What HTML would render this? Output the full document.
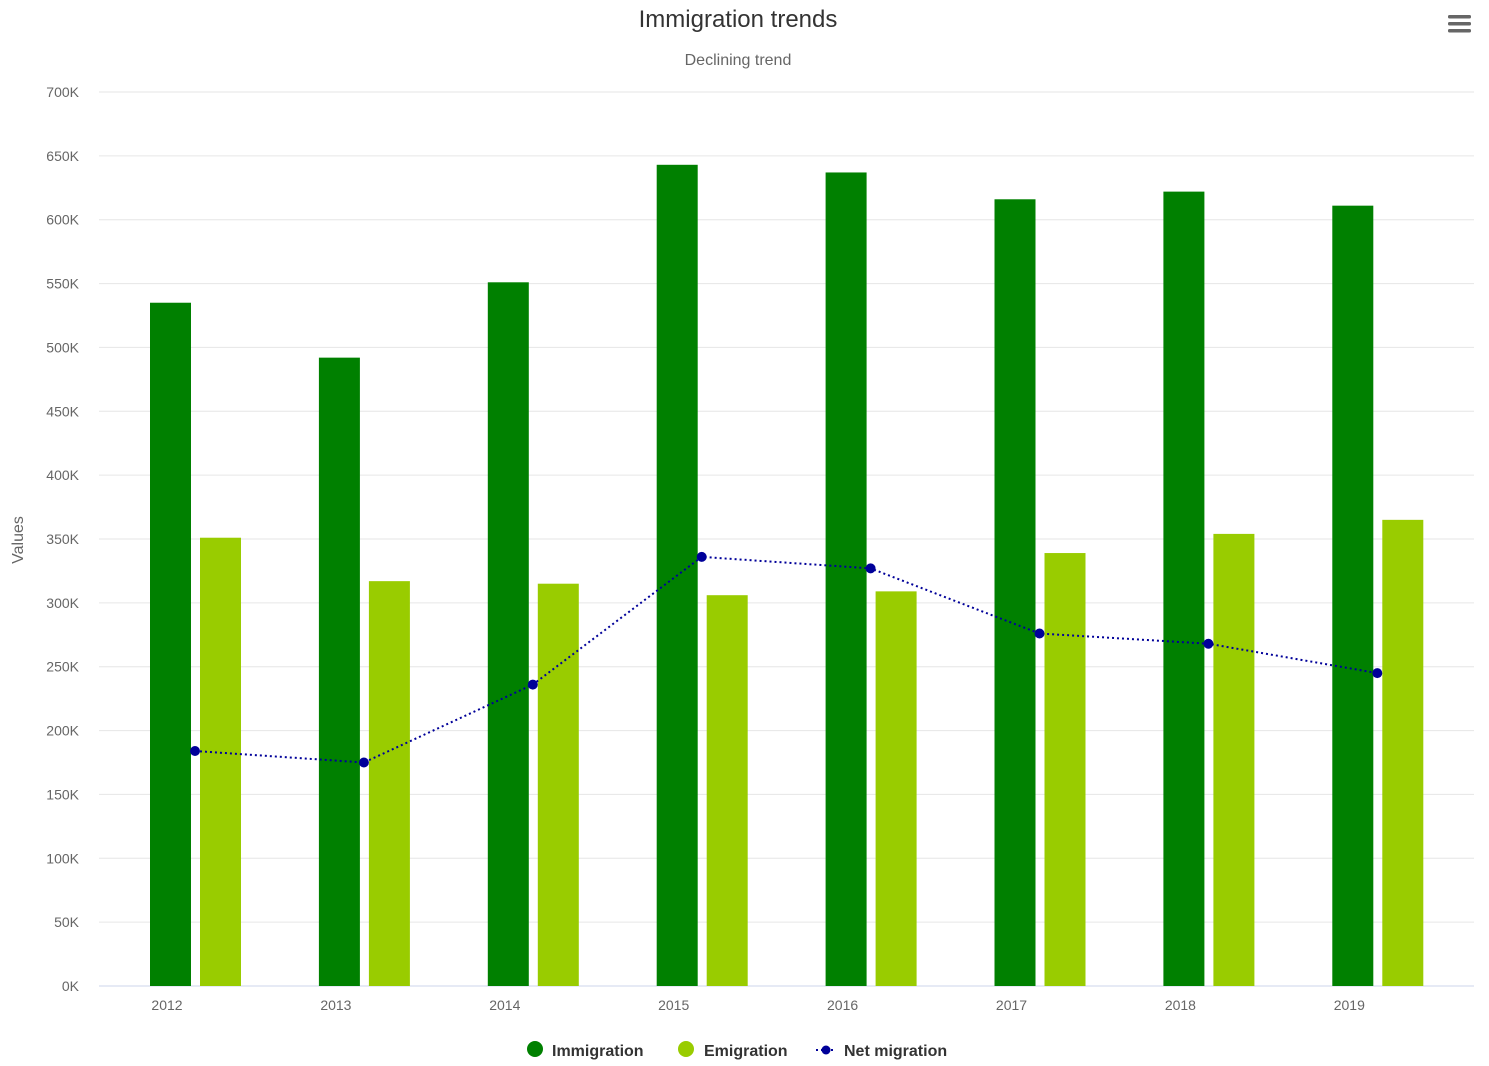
<!DOCTYPE html>
<html><head><meta charset="utf-8"><style>
body{margin:0;background:#fff;font-family:"Liberation Sans",sans-serif;}
</style></head><body>
<svg id="chart" width="1489" height="1066" xmlns="http://www.w3.org/2000/svg" style="display:block">
<text x="738" y="27" text-anchor="middle" font-size="24" fill="#333">Immigration trends</text>
<text x="738" y="65" text-anchor="middle" font-size="16" fill="#666">Declining trend</text>
<g fill="#666">
<rect x="1448" y="15" width="23" height="3.5" rx="1.5"/><rect x="1448" y="22" width="23" height="3.5" rx="1.5"/><rect x="1448" y="29" width="23" height="3.5" rx="1.5"/>
</g>
<text transform="translate(23,540) rotate(-90)" text-anchor="middle" font-size="16" fill="#666">Values</text>
<g id="grid"></g><g id="bars"></g><g id="line"></g><g id="xlabels"></g>
<g font-size="16" font-weight="bold" fill="#333">
<g><circle cx="535" cy="1049" r="8" fill="#008000"/><text x="552" y="1056">Immigration</text></g>
<g><circle cx="686" cy="1049" r="8" fill="#99cc00"/><text x="704" y="1056">Emigration</text></g>
<g><line x1="816" y1="1050" x2="834" y2="1050" stroke="#000099" stroke-width="2" stroke-dasharray="2,3"/><circle cx="826" cy="1050" r="4.5" fill="#000099"/><text x="844" y="1056">Net migration</text></g>
</g>
</svg>
<script>
const categories=["2012","2013","2014","2015","2016","2017","2018","2019"];
const immigration=[535,492,551,643,637,616,622,611];
const emigration=[351,317,315,306,309,339,354,365];
const netMigration=[184,175,236,336,327,276,268,245];
const yTicks=[0,50,100,150,200,250,300,350,400,450,500,550,600,650,700];
const NS="http://www.w3.org/2000/svg";
const y=v=>986-v*(894/700);
const cx=i=>195+i*168.9;
function mk(tag,attrs,parent){const e=document.createElementNS(NS,tag);for(const k in attrs)e.setAttribute(k,attrs[k]);parent.appendChild(e);return e;}
const grid=document.getElementById('grid');
yTicks.forEach(t=>{
  const l=mk('line',{x1:99,x2:1474,y1:y(t),y2:y(t),stroke:t===0?'#ccd6eb':'#e6e6e6','stroke-width':1},grid);
  
  
  const tx=mk('text',{x:79,y:y(t)+5,'text-anchor':'end','font-size':14,fill:'#666'},grid);
  tx.textContent=t+'K';
  
  
});
const bars=document.getElementById('bars');
categories.forEach((c,i)=>{
  const b1=mk('rect',{x:cx(i)-45,y:y(immigration[i]),width:41,height:986-y(immigration[i]),fill:'#008000'},bars);
  
  
  const b2=mk('rect',{x:cx(i)+5,y:y(emigration[i]),width:41,height:986-y(emigration[i]),fill:'#99cc00'},bars);
  
  
  const t=mk('text',{x:cx(i)-28,y:1010,'text-anchor':'middle','font-size':14,fill:'#666'},document.getElementById('xlabels'));
  t.textContent=c;
  
  
});
const lg=document.getElementById('line');
const p=mk('polyline',{points:netMigration.map((v,i)=>cx(i)+','+y(v)).join(' '),fill:'none',stroke:'#000099','stroke-width':2,'stroke-dasharray':'2,3'},lg);


netMigration.forEach((v,i)=>{
  const d=mk('circle',{cx:cx(i),cy:y(v),r:5,fill:'#000099'},lg);
  
  
});
</script>
</body></html>
